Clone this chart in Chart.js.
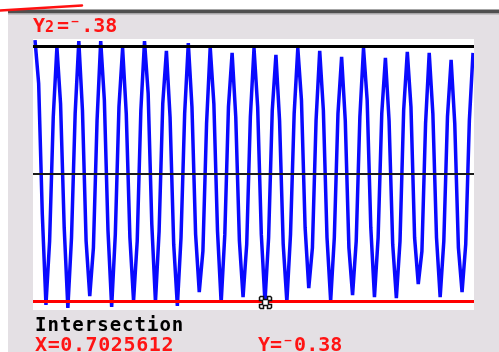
<!DOCTYPE html>
<html><head><meta charset="utf-8">
<script src="https://cdn.jsdelivr.net/npm/chart.js@4.4.1/dist/chart.umd.min.js"></script>
<style>
html,body{margin:0;padding:0;background:#fff;}
#wrap{position:relative;width:499px;height:352px;overflow:hidden;}
canvas{position:absolute;left:0;top:0;}
.t{position:absolute;font-family:"DejaVu Sans Mono",monospace;font-weight:bold;white-space:pre;line-height:20px;font-size:20px;}
.s{display:inline-block;width:12px;font-size:15px;}
</style></head><body>
<div id="wrap">
<canvas id="c" width="499" height="352"></canvas>
<div class="t" style="left:33px;top:14.7px;color:#ff1414">Y<span class="s">2</span>=⁻.38</div>
<div class="t" style="left:35px;top:313.5px;color:#000;font-size:19px;letter-spacing:1px">Intersection</div>
<div class="t" style="left:35px;top:333.6px;color:#ff1414;letter-spacing:0.6px">X=0.7025612</div>
<div class="t" style="left:258px;top:333.6px;color:#ff1414">Y=⁻0.38</div>
</div>
<script>
// Sampled curve Y1 (one row per cycle: peak, two steps down, trough, two steps up)
const wave = [
  0.399, 0.27, -0.12, -0.390, -0.20, 0.17,
  0.378, 0.21, -0.16, -0.399, -0.19, 0.18,
  0.396, 0.19, -0.20, -0.364, -0.22, 0.16,
  0.396, 0.22, -0.17, -0.396, -0.18, 0.20,
  0.375, 0.18, -0.19, -0.378, -0.20, 0.19,
  0.396, 0.24, -0.15, -0.381, -0.17, 0.21,
  0.367, 0.17, -0.21, -0.393, -0.19, 0.18,
  0.390, 0.20, -0.18, -0.352, -0.23, 0.15,
  0.378, 0.21, -0.17, -0.384, -0.18, 0.20,
  0.361, 0.17, -0.20, -0.367, -0.21, 0.17,
  0.375, 0.20, -0.18, -0.381, -0.19, 0.19,
  0.355, 0.16, -0.21, -0.381, -0.18, 0.18,
  0.375, 0.22, -0.16, -0.340, -0.22, 0.16,
  0.367, 0.19, -0.19, -0.378, -0.19, 0.18,
  0.349, 0.16, -0.22, -0.361, -0.20, 0.17,
  0.375, 0.22, -0.16, -0.367, -0.19, 0.18,
  0.346, 0.16, -0.21, -0.370, -0.20, 0.19,
  0.364, 0.20, -0.19, -0.328, -0.23, 0.15,
  0.361, 0.18, -0.19, -0.367, -0.20, 0.17,
  0.340, 0.15, -0.22, -0.352, -0.21, 0.16,
  0.361
];
// Horizontal graphs: top line, x-axis, Y2 = -.38
const levels = [0.38, 0, -0.38];
const levelColors = ['#000000', '#1a1a1a', '#ff0000'];
const levelWidths = [3, 2, 3];
// Intersection point (sample index, y)
const intersection = {i: 63, y: -0.38};

const xMin = -0.55, xMax = 120.27;
const yMin = -0.4053, yMax = 0.4024;

const wavePts = wave.map((v, i) => ({x: i, y: v}));
const datasets = levels.map((lv, k) => ({
  data: [{x: xMin, y: lv}, {x: xMax, y: lv}],
  borderColor: levelColors[k], borderWidth: levelWidths[k],
  pointRadius: 0, order: k
}));
datasets.push({
  data: wavePts, borderColor: '#0a0aff', borderWidth: 3.5,
  pointRadius: 0, tension: 0, borderJoinStyle: 'bevel', order: 10
});

const bgPlugin = {
  id: 'bg',
  beforeDraw(chart) {
    const ctx = chart.ctx, a = chart.chartArea;
    ctx.save();
    ctx.fillStyle = '#fff'; ctx.fillRect(0, 0, 499, 352);
    ctx.fillStyle = '#e4e0e4'; ctx.fillRect(8, 10, 491, 342);
    ctx.fillStyle = '#4f4f4f'; ctx.fillRect(8, 9.5, 491, 3.5);
    ctx.fillStyle = '#a8a6a8'; ctx.fillRect(8, 13, 491, 1.5);
    ctx.fillStyle = '#fff'; ctx.fillRect(a.left, a.top, a.right - a.left, a.bottom - a.top);
    ctx.strokeStyle = '#ff1010'; ctx.lineWidth = 2.5; ctx.lineCap = 'round';
    ctx.beginPath(); ctx.moveTo(0, 10.5); ctx.lineTo(82, 5.5); ctx.stroke();
    ctx.restore();
  },
  afterDatasetsDraw(chart) {
    const ctx = chart.ctx;
    const px = Math.round(chart.scales.x.getPixelForValue(intersection.i)) + 0.5;
    const py = Math.round(chart.scales.y.getPixelForValue(intersection.y)) + 0.5;
    ctx.save();
    ctx.translate(px, py);
    ctx.fillStyle = '#fff'; ctx.strokeStyle = '#111'; ctx.lineWidth = 1.5;
    ctx.beginPath();
    const pts = [[-2,-3],[-2,-6],[-5,-6],[-6,-5],[-6,-2],[-3,-2],[-3,2],[-6,2],[-6,5],[-5,6],[-2,6],[-2,3],
                 [2,3],[2,6],[5,6],[6,5],[6,2],[3,2],[3,-2],[6,-2],[6,-5],[5,-6],[2,-6],[2,-3]];
    pts.forEach((p, j) => j ? ctx.lineTo(p[0], p[1]) : ctx.moveTo(p[0], p[1]));
    ctx.closePath(); ctx.fill(); ctx.stroke();
    ctx.restore();
  }
};

new Chart(document.getElementById('c'), {
  type: 'line',
  data: {datasets},
  options: {
    responsive: false, animation: false, devicePixelRatio: 1,
    layout: {padding: {left: 33, top: 39, right: 25, bottom: 42}},
    plugins: {legend: {display: false}, tooltip: {enabled: false}},
    scales: {
      x: {type: 'linear', min: xMin, max: xMax, display: false},
      y: {type: 'linear', min: yMin, max: yMax, display: false}
    }
  },
  plugins: [bgPlugin]
});
</script>
</body></html>
